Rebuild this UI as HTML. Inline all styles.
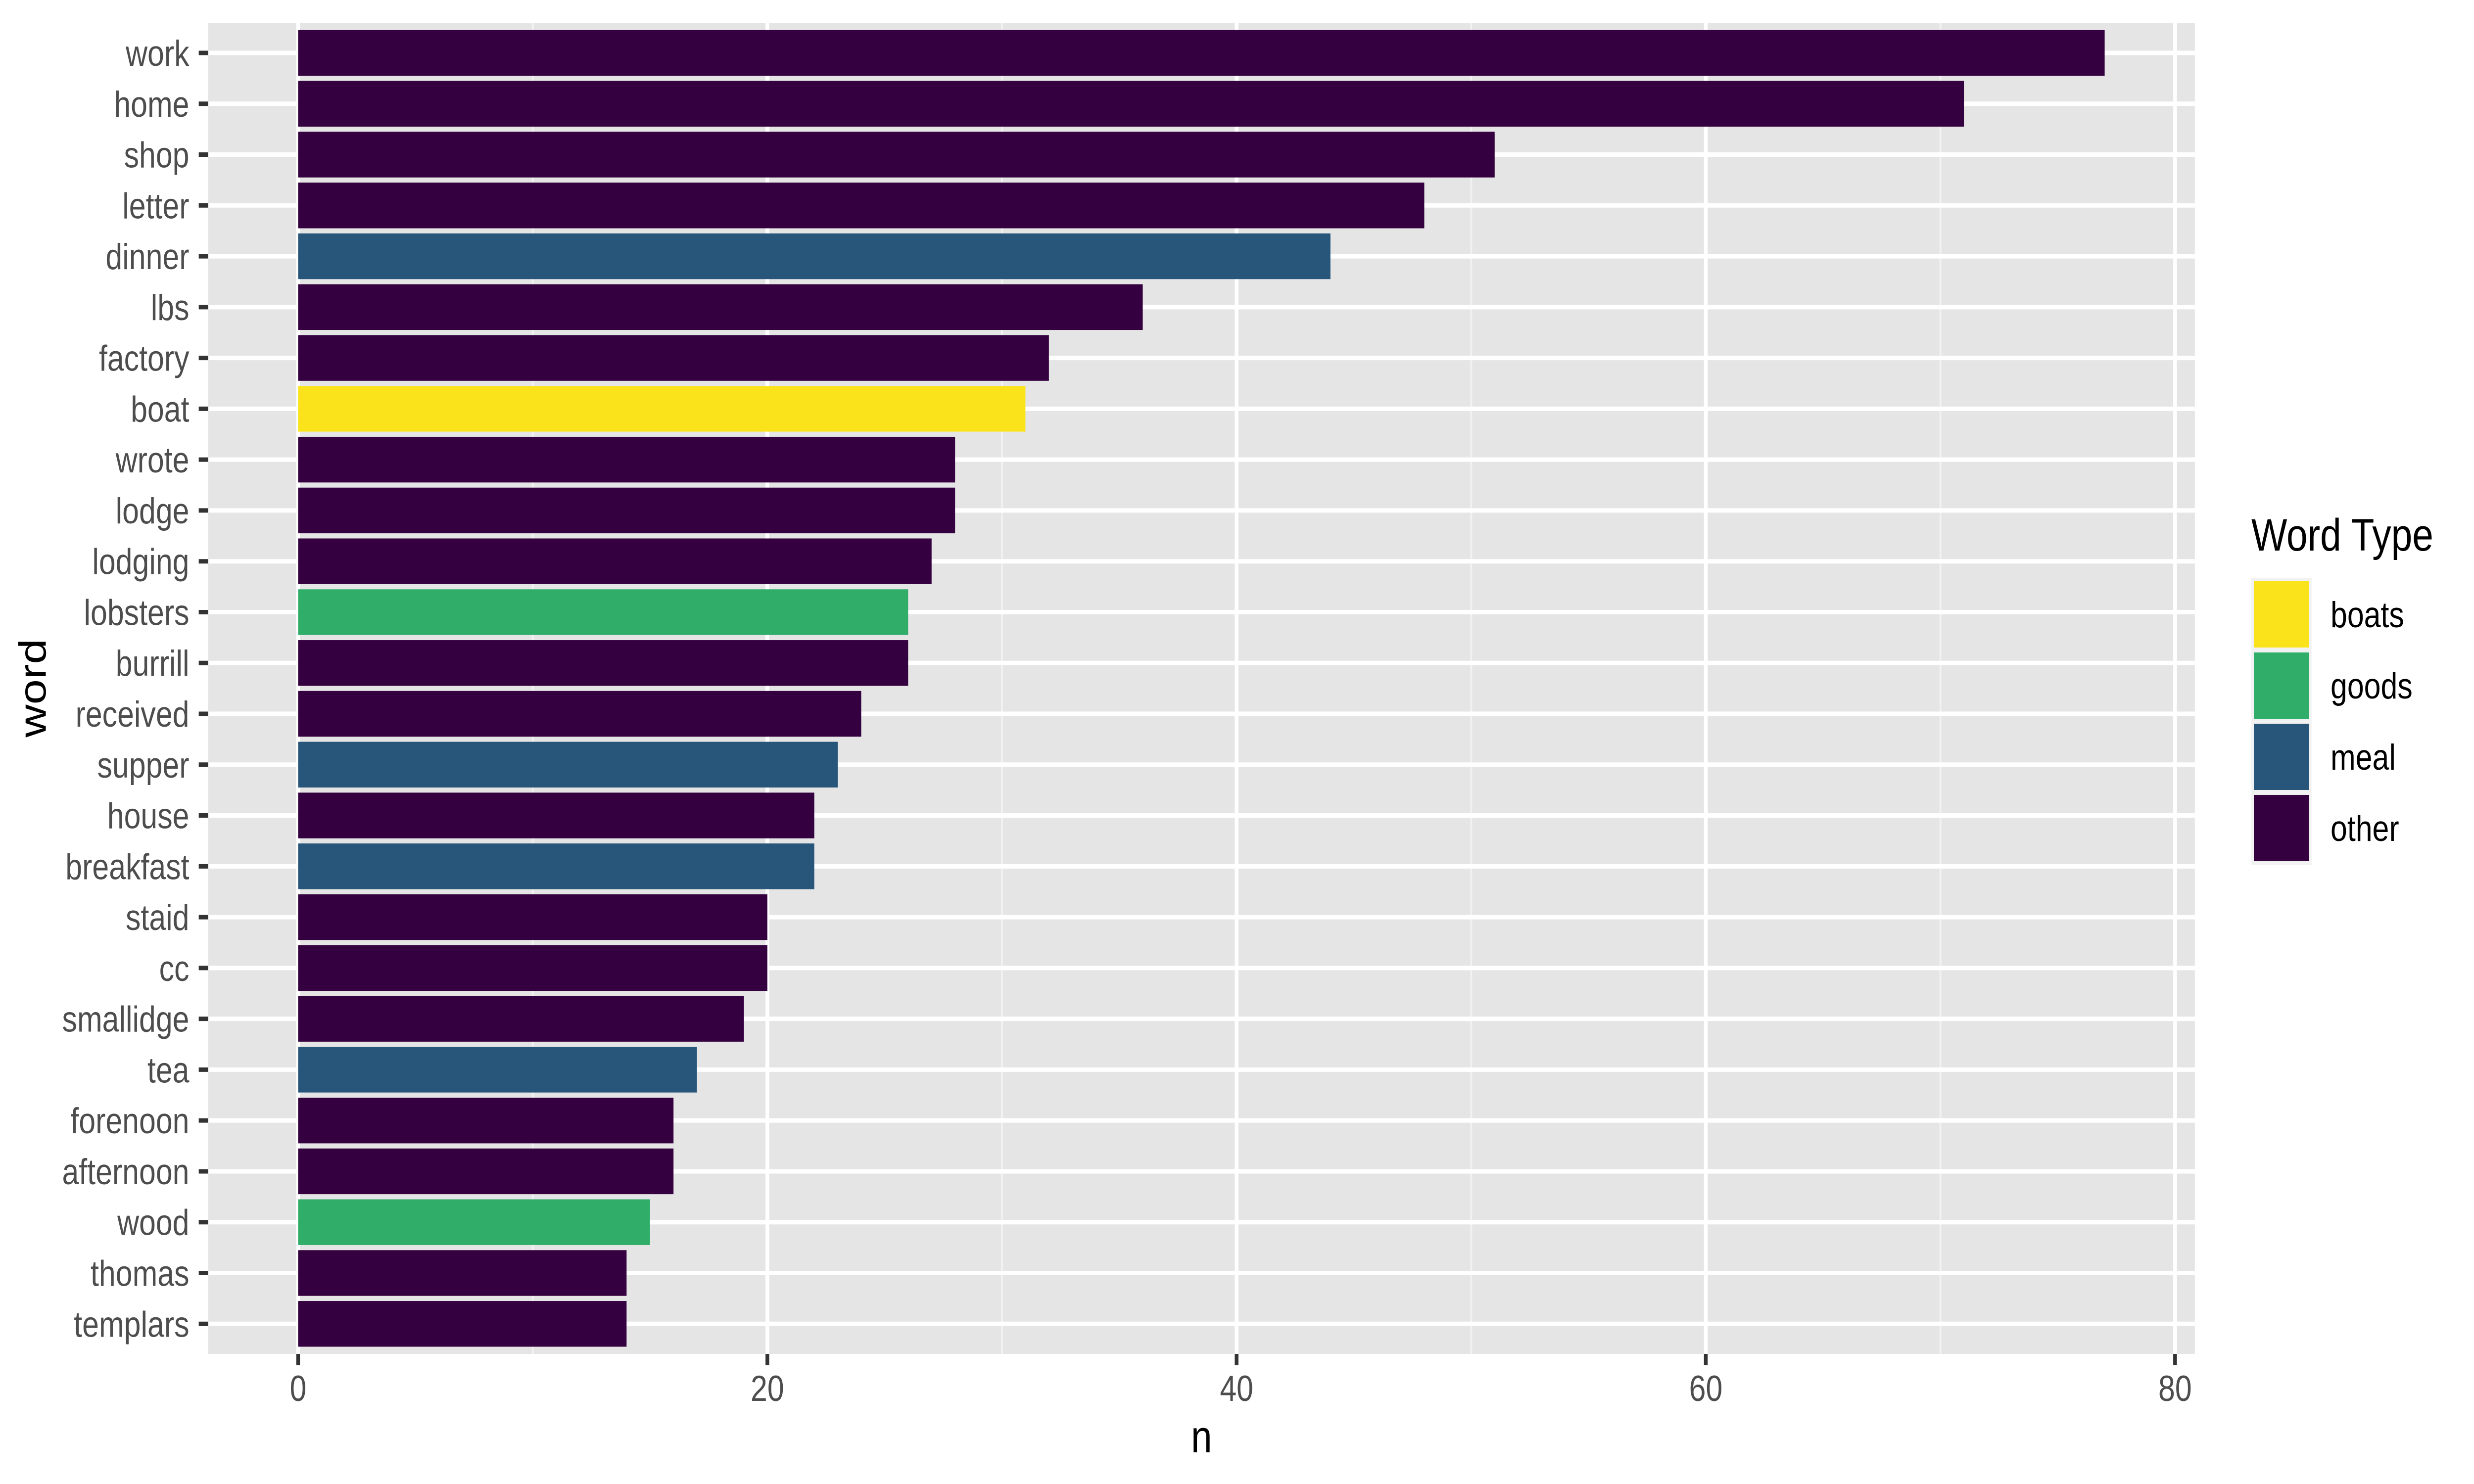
<!DOCTYPE html>
<html><head><meta charset="utf-8"><meta name="viewport" content="width=6000,height=3000"><style>html,body{margin:0;padding:0;background:#fff;width:100%;height:100%;overflow:hidden}svg{display:block;position:absolute;left:0;top:0;width:100vw;height:100vh}</style></head>
<body>
<svg xmlns="http://www.w3.org/2000/svg" viewBox="0 0 6000 3000" preserveAspectRatio="none" font-family="Liberation Sans, Arial, sans-serif">
<rect width="6000" height="3000" fill="#fff"/>
<rect x="505" y="46" width="4818" height="2691" fill="#e5e5e5"/>
<g stroke="#f2f2f2" stroke-width="4.5">
<line x1="1292" y1="46" x2="1292" y2="2737"/>
<line x1="2430" y1="46" x2="2430" y2="2737"/>
<line x1="3568" y1="46" x2="3568" y2="2737"/>
<line x1="4706" y1="46" x2="4706" y2="2737"/>
</g>
<g stroke="#fff" stroke-width="9">
<line x1="723" y1="46" x2="723" y2="2737"/>
<line x1="1861" y1="46" x2="1861" y2="2737"/>
<line x1="2999" y1="46" x2="2999" y2="2737"/>
<line x1="4137" y1="46" x2="4137" y2="2737"/>
<line x1="5275" y1="46" x2="5275" y2="2737"/>
</g>
<g font-size="73" fill="#4d4d4d">
<g transform="translate(0,107)"><line x1="505" x2="5323" stroke="#fff" stroke-width="9"/><rect x="723" y="-46.2" width="4381.3" height="92.4" fill="#35003F"/><line x1="482" x2="505" stroke="#333" stroke-width="9"/><text x="459" y="26" text-anchor="end">work</text></g>
<g transform="translate(0,209.77)"><line x1="505" x2="5323" stroke="#fff" stroke-width="9"/><rect x="723" y="-46.2" width="4039.9" height="92.4" fill="#35003F"/><line x1="482" x2="505" stroke="#333" stroke-width="9"/><text x="459" y="26" text-anchor="end">home</text></g>
<g transform="translate(0,312.54)"><line x1="505" x2="5323" stroke="#fff" stroke-width="9"/><rect x="723" y="-46.2" width="2901.9" height="92.4" fill="#35003F"/><line x1="482" x2="505" stroke="#333" stroke-width="9"/><text x="459" y="26" text-anchor="end">shop</text></g>
<g transform="translate(0,415.31)"><line x1="505" x2="5323" stroke="#fff" stroke-width="9"/><rect x="723" y="-46.2" width="2731.2" height="92.4" fill="#35003F"/><line x1="482" x2="505" stroke="#333" stroke-width="9"/><text x="459" y="26" text-anchor="end">letter</text></g>
<g transform="translate(0,518.08)"><line x1="505" x2="5323" stroke="#fff" stroke-width="9"/><rect x="723" y="-46.2" width="2503.6" height="92.4" fill="#28567A"/><line x1="482" x2="505" stroke="#333" stroke-width="9"/><text x="459" y="26" text-anchor="end">dinner</text></g>
<g transform="translate(0,620.85)"><line x1="505" x2="5323" stroke="#fff" stroke-width="9"/><rect x="723" y="-46.2" width="2048.4" height="92.4" fill="#35003F"/><line x1="482" x2="505" stroke="#333" stroke-width="9"/><text x="459" y="26" text-anchor="end">lbs</text></g>
<g transform="translate(0,723.62)"><line x1="505" x2="5323" stroke="#fff" stroke-width="9"/><rect x="723" y="-46.2" width="1820.8" height="92.4" fill="#35003F"/><line x1="482" x2="505" stroke="#333" stroke-width="9"/><text x="459" y="26" text-anchor="end">factory</text></g>
<g transform="translate(0,826.39)"><line x1="505" x2="5323" stroke="#fff" stroke-width="9"/><rect x="723" y="-46.2" width="1763.9" height="92.4" fill="#FBE31C"/><line x1="482" x2="505" stroke="#333" stroke-width="9"/><text x="459" y="26" text-anchor="end">boat</text></g>
<g transform="translate(0,929.16)"><line x1="505" x2="5323" stroke="#fff" stroke-width="9"/><rect x="723" y="-46.2" width="1593.2" height="92.4" fill="#35003F"/><line x1="482" x2="505" stroke="#333" stroke-width="9"/><text x="459" y="26" text-anchor="end">wrote</text></g>
<g transform="translate(0,1031.93)"><line x1="505" x2="5323" stroke="#fff" stroke-width="9"/><rect x="723" y="-46.2" width="1593.2" height="92.4" fill="#35003F"/><line x1="482" x2="505" stroke="#333" stroke-width="9"/><text x="459" y="26" text-anchor="end">lodge</text></g>
<g transform="translate(0,1134.7)"><line x1="505" x2="5323" stroke="#fff" stroke-width="9"/><rect x="723" y="-46.2" width="1536.3" height="92.4" fill="#35003F"/><line x1="482" x2="505" stroke="#333" stroke-width="9"/><text x="459" y="26" text-anchor="end">lodging</text></g>
<g transform="translate(0,1237.47)"><line x1="505" x2="5323" stroke="#fff" stroke-width="9"/><rect x="723" y="-46.2" width="1479.4" height="92.4" fill="#30AD69"/><line x1="482" x2="505" stroke="#333" stroke-width="9"/><text x="459" y="26" text-anchor="end">lobsters</text></g>
<g transform="translate(0,1340.24)"><line x1="505" x2="5323" stroke="#fff" stroke-width="9"/><rect x="723" y="-46.2" width="1479.4" height="92.4" fill="#35003F"/><line x1="482" x2="505" stroke="#333" stroke-width="9"/><text x="459" y="26" text-anchor="end">burrill</text></g>
<g transform="translate(0,1443.01)"><line x1="505" x2="5323" stroke="#fff" stroke-width="9"/><rect x="723" y="-46.2" width="1365.6" height="92.4" fill="#35003F"/><line x1="482" x2="505" stroke="#333" stroke-width="9"/><text x="459" y="26" text-anchor="end">received</text></g>
<g transform="translate(0,1545.78)"><line x1="505" x2="5323" stroke="#fff" stroke-width="9"/><rect x="723" y="-46.2" width="1308.7" height="92.4" fill="#28567A"/><line x1="482" x2="505" stroke="#333" stroke-width="9"/><text x="459" y="26" text-anchor="end">supper</text></g>
<g transform="translate(0,1648.55)"><line x1="505" x2="5323" stroke="#fff" stroke-width="9"/><rect x="723" y="-46.2" width="1251.8" height="92.4" fill="#35003F"/><line x1="482" x2="505" stroke="#333" stroke-width="9"/><text x="459" y="26" text-anchor="end">house</text></g>
<g transform="translate(0,1751.32)"><line x1="505" x2="5323" stroke="#fff" stroke-width="9"/><rect x="723" y="-46.2" width="1251.8" height="92.4" fill="#28567A"/><line x1="482" x2="505" stroke="#333" stroke-width="9"/><text x="459" y="26" text-anchor="end">breakfast</text></g>
<g transform="translate(0,1854.09)"><line x1="505" x2="5323" stroke="#fff" stroke-width="9"/><rect x="723" y="-46.2" width="1138" height="92.4" fill="#35003F"/><line x1="482" x2="505" stroke="#333" stroke-width="9"/><text x="459" y="26" text-anchor="end">staid</text></g>
<g transform="translate(0,1956.86)"><line x1="505" x2="5323" stroke="#fff" stroke-width="9"/><rect x="723" y="-46.2" width="1138" height="92.4" fill="#35003F"/><line x1="482" x2="505" stroke="#333" stroke-width="9"/><text x="459" y="26" text-anchor="end">cc</text></g>
<g transform="translate(0,2059.63)"><line x1="505" x2="5323" stroke="#fff" stroke-width="9"/><rect x="723" y="-46.2" width="1081.1" height="92.4" fill="#35003F"/><line x1="482" x2="505" stroke="#333" stroke-width="9"/><text x="459" y="26" text-anchor="end">smallidge</text></g>
<g transform="translate(0,2162.4)"><line x1="505" x2="5323" stroke="#fff" stroke-width="9"/><rect x="723" y="-46.2" width="967.3" height="92.4" fill="#28567A"/><line x1="482" x2="505" stroke="#333" stroke-width="9"/><text x="459" y="26" text-anchor="end">tea</text></g>
<g transform="translate(0,2265.17)"><line x1="505" x2="5323" stroke="#fff" stroke-width="9"/><rect x="723" y="-46.2" width="910.4" height="92.4" fill="#35003F"/><line x1="482" x2="505" stroke="#333" stroke-width="9"/><text x="459" y="26" text-anchor="end">forenoon</text></g>
<g transform="translate(0,2367.94)"><line x1="505" x2="5323" stroke="#fff" stroke-width="9"/><rect x="723" y="-46.2" width="910.4" height="92.4" fill="#35003F"/><line x1="482" x2="505" stroke="#333" stroke-width="9"/><text x="459" y="26" text-anchor="end">afternoon</text></g>
<g transform="translate(0,2470.71)"><line x1="505" x2="5323" stroke="#fff" stroke-width="9"/><rect x="723" y="-46.2" width="853.5" height="92.4" fill="#30AD69"/><line x1="482" x2="505" stroke="#333" stroke-width="9"/><text x="459" y="26" text-anchor="end">wood</text></g>
<g transform="translate(0,2573.48)"><line x1="505" x2="5323" stroke="#fff" stroke-width="9"/><rect x="723" y="-46.2" width="796.6" height="92.4" fill="#35003F"/><line x1="482" x2="505" stroke="#333" stroke-width="9"/><text x="459" y="26" text-anchor="end">thomas</text></g>
<g transform="translate(0,2676.25)"><line x1="505" x2="5323" stroke="#fff" stroke-width="9"/><rect x="723" y="-46.2" width="796.6" height="92.4" fill="#35003F"/><line x1="482" x2="505" stroke="#333" stroke-width="9"/><text x="459" y="26" text-anchor="end">templars</text></g>
</g>
<g font-size="73" fill="#4d4d4d" text-anchor="middle">
<text x="723" y="2832">0</text><text x="1861" y="2832">20</text><text x="2999" y="2832">40</text><text x="4137" y="2832">60</text><text x="5275" y="2832">80</text>
</g>
<g stroke="#333" stroke-width="9">
<line x1="723" y1="2737" x2="723" y2="2760"/><line x1="1861" y1="2737" x2="1861" y2="2760"/><line x1="2999" y1="2737" x2="2999" y2="2760"/><line x1="4137" y1="2737" x2="4137" y2="2760"/><line x1="5275" y1="2737" x2="5275" y2="2760"/>
</g>
<text x="2914" y="2936" font-size="92" text-anchor="middle" fill="#000">n</text>
<text transform="translate(111,1391) rotate(-90)" font-size="92" text-anchor="middle" fill="#000">word</text>
<text x="5460" y="1113" font-size="92" fill="#000">Word Type</text>
<rect x="5460" y="1169" width="146" height="580" fill="#f2f2f2"/>
<rect x="5466" y="1175" width="134" height="134" fill="#FBE31C"/>
<rect x="5466" y="1319" width="134" height="134" fill="#30AD69"/>
<rect x="5466" y="1463" width="134" height="134" fill="#28567A"/>
<rect x="5466" y="1607" width="134" height="134" fill="#35003F"/>
<g font-size="73" fill="#000">
<text x="5652" y="1268">boats</text><text x="5652" y="1412">goods</text><text x="5652" y="1556">meal</text><text x="5652" y="1700">other</text>
</g>
</svg>
</body></html>
